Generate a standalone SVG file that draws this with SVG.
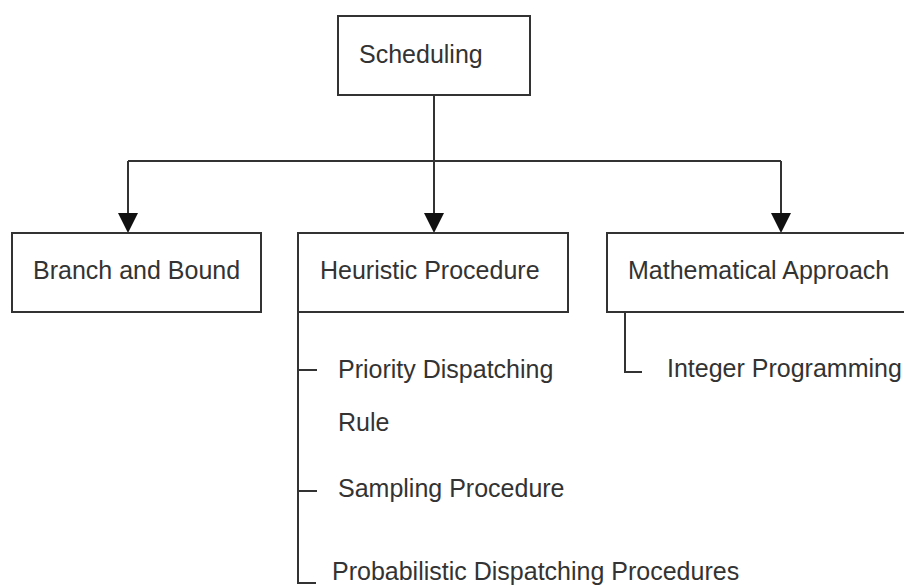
<svg xmlns="http://www.w3.org/2000/svg" width="904" height="586" viewBox="0 0 904 586">
  <style>
    .box { fill: #ffffff; stroke: #333333; stroke-width: 2; }
    .lbl { font-family: "Liberation Sans", Arial, sans-serif; font-size: 25px; fill: #333333; }
    .wire { fill: none; stroke: #333333; stroke-width: 2; }
    .head { fill: #111111; }
  </style>
  <rect width="904" height="586" fill="#ffffff"/>

  <!-- connectors -->
  <g id="connectors">
    <path class="wire" d="M434 95 V215"/>
    <path class="wire" d="M128 161 H781"/>
    <path class="wire" d="M128 161 V215"/>
    <path class="wire" d="M781 161 V215"/>
    <polygon class="head" points="118,213 138,213 128,233"/>
    <polygon class="head" points="424,213 444,213 434,233"/>
    <polygon class="head" points="771,213 791,213 781,233"/>
    <!-- heuristic sub-items -->
    <path class="wire" d="M298 312 V583 H316"/>
    <path class="wire" d="M298 370 H317"/>
    <path class="wire" d="M298 491 H317"/>
    <!-- mathematical sub-item -->
    <path class="wire" d="M625 313 V372 H642"/>
  </g>

  <g id="scheduling">
    <rect class="box" x="338" y="16" width="192" height="79"/>
    <text class="lbl" x="359" y="63">Scheduling</text>
  </g>

  <g id="branch-and-bound">
    <rect class="box" x="12" y="233" width="249" height="79"/>
    <text class="lbl" x="33" y="279">Branch and Bound</text>
  </g>

  <g id="heuristic-procedure">
    <rect class="box" x="298" y="233" width="270" height="79"/>
    <text class="lbl" x="320" y="279">Heuristic Procedure</text>
  </g>

  <g id="mathematical-approach">
    <rect class="box" x="607" y="233" width="300" height="79"/>
    <text class="lbl" x="628" y="279">Mathematical Approach</text>
  </g>

  <g id="heuristic-items">
    <text class="lbl" x="338" y="378">Priority Dispatching</text>
    <text class="lbl" x="338" y="431">Rule</text>
    <text class="lbl" x="338" y="497">Sampling Procedure</text>
    <text class="lbl" x="332" y="580">Probabilistic Dispatching Procedures</text>
  </g>

  <g id="math-items">
    <text class="lbl" x="667" y="377">Integer Programming</text>
  </g>
</svg>
